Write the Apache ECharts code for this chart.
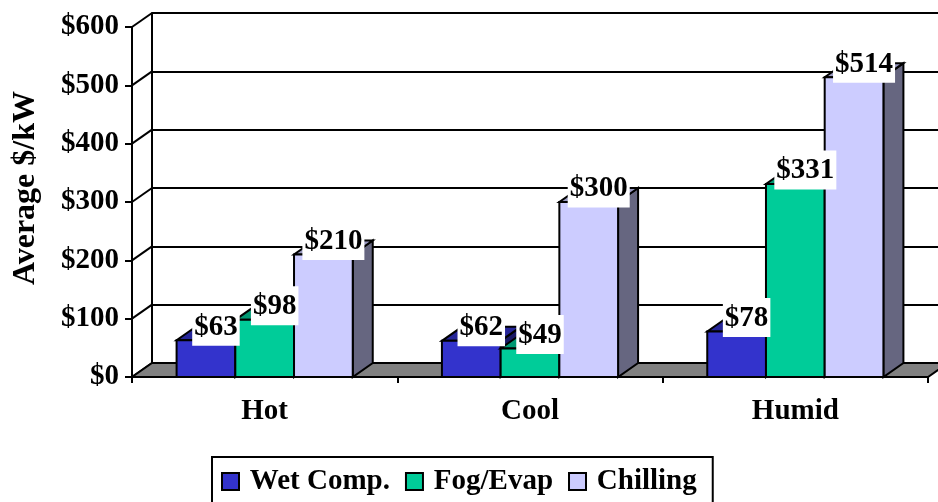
<!DOCTYPE html>
<html>
<head>
<meta charset="utf-8">
<script src="https://cdn.jsdelivr.net/npm/echarts@6/dist/echarts.min.js"></script>
<style>
html, body { margin: 0; padding: 0; background: #fff; }
#chart { width: 938px; height: 502px; }
</style>
</head>
<body>
<div id="chart"></div>
<script>
var categories = ['Hot', 'Cool', 'Humid'];
var seriesNames = ['Wet Comp.', 'Fog/Evap', 'Chilling'];
var wetComp = [63, 62, 78];
var fogEvap = [98, 49, 331];
var chilling = [210, 300, 514];
var yTicks = [0, 100, 200, 300, 400, 500, 600];

var frontColors = ['#3333CC', '#00CC99', '#CCCCFF'];
var topColors = ['#262699', '#009973', '#9999BF'];
var sideColors = ['#1A1A66', '#006650', '#666680'];

// depth of the fake 3d box
var DX = 20, DY = -14;
var BAR = 0.2213; // bar width as part of a category band
var FONT_FAMILY = '"Liberation Serif", "Times New Roman", serif';
var FONT = 'bold 29px ' + FONT_FAMILY;

var allValues = [wetComp, fogEvap, chilling];

function barGeom(api, k) {
	var cat = api.value(0), val = api.value(1);
	var band = api.size([1, 0])[0];
	var w = band * BAR;
	var c = api.coord([cat, val]);
	var b = api.coord([cat, 0]);
	var x0 = c[0] - 1.5 * w + k * w;
	return { x0: x0, x1: x0 + w, yt: c[1], yb: b[1], w: w };
}

function barRenderer(k) {
	return function (params, api) {
		var g = barGeom(api, k);
		var line = { stroke: '#000', lineWidth: 2, lineJoin: 'miter' };
		return {
			type: 'group',
			children: [
				{ type: 'polygon', shape: { points: [[g.x1, g.yt], [g.x1, g.yb], [g.x1 + DX, g.yb + DY], [g.x1 + DX, g.yt + DY]] },
				  style: Object.assign({ fill: sideColors[k] }, line) },
				{ type: 'polygon', shape: { points: [[g.x0, g.yt], [g.x1, g.yt], [g.x1 + DX, g.yt + DY], [g.x0 + DX, g.yt + DY]] },
				  style: Object.assign({ fill: topColors[k] }, line) },
				{ type: 'rect', shape: { x: g.x0, y: g.yt, width: g.w, height: g.yb - g.yt },
				  style: Object.assign({ fill: frontColors[k] }, line) }
			]
		};
	};
}

var barSeries = seriesNames.map(function (name, k) {
	return {
		name: name,
		type: 'custom',
		xAxisIndex: 0,
		yAxisIndex: 0,
		z: 3,
		itemStyle: { color: frontColors[k] },
		renderItem: barRenderer(k),
		encode: { x: 0, y: 1 },
		data: allValues[k].map(function (v, i) { return [i, v]; })
	};
});

var labelData = [];
allValues.forEach(function (arr, k) {
	arr.forEach(function (v, i) { labelData.push([i, v, k]); });
});

var option = {
	animation: false,
	backgroundColor: '#fff',
	grid: [
		{ left: 132, right: 10, top: 27, bottom: 125 },
		{ left: 152, right: -10, top: 13, bottom: 139 }
	],
	xAxis: [
		{
			gridIndex: 0, type: 'category', data: categories,
			axisLine: { show: true, lineStyle: { color: '#000', width: 2 } },
			axisTick: { show: true, interval: 0, length: 6, lineStyle: { color: '#000', width: 2 } },
			axisLabel: { interval: 0, margin: 20, color: '#000', fontWeight: 'bold', fontSize: 29, fontFamily: FONT_FAMILY },
			splitLine: { show: false }
		},
		{ gridIndex: 1, type: 'category', data: categories, show: false }
	],
	yAxis: [
		{
			gridIndex: 0, type: 'value', min: 0, max: 600, interval: 100,
			name: 'Average $/kW', nameLocation: 'middle', nameGap: 90, nameRotate: 90,
			nameTextStyle: { color: '#000', fontWeight: 'bold', fontSize: 32, fontFamily: FONT_FAMILY, padding: [0, 0, 0, 28] },
			axisLine: { show: true, lineStyle: { color: '#000', width: 2 } },
			axisTick: { show: true, length: 7, lineStyle: { color: '#000', width: 2 } },
			axisLabel: { margin: 13, formatter: '${value}', color: '#000', fontWeight: 'bold', fontSize: 29, fontFamily: FONT_FAMILY },
			splitLine: { show: false }
		},
		{
			gridIndex: 1, type: 'value', min: 0, max: 600, interval: 100,
			axisLine: { show: true, lineStyle: { color: '#000', width: 2 } },
			axisTick: { show: false },
			axisLabel: { show: false },
			splitLine: { show: true, lineStyle: { color: '#000', width: 2 } }
		}
	],
	legend: {
		data: seriesNames,
		left: 212, top: 457,
		orient: 'horizontal',
		icon: 'rect',
		itemWidth: 17, itemHeight: 17, itemGap: 15,
		padding: [10, 16, 14, 9],
		backgroundColor: '#fff',
		borderColor: '#000', borderWidth: 2, borderRadius: 0,
		itemStyle: { borderColor: '#000', borderWidth: 2 },
		formatter: function (n) { return '\u2009' + n; },
		textStyle: { color: '#000', fontWeight: 'bold', fontSize: 29, fontFamily: FONT_FAMILY }
	},
	series: [
		{
			// connectors from front axis ticks to back wall
			type: 'custom', xAxisIndex: 0, yAxisIndex: 0, z: 1, silent: true,
			encode: { x: 0, y: 1 },
			data: yTicks.map(function (v) { return [0, v]; }),
			renderItem: function (params, api) {
				var x = params.coordSys.x;
				var y = api.coord([0, api.value(1)])[1];
				return { type: 'line', shape: { x1: x, y1: y, x2: x + DX, y2: y + DY }, style: { stroke: '#000', lineWidth: 2 } };
			}
		},
		{
			// floor
			type: 'custom', xAxisIndex: 0, yAxisIndex: 0, z: 2, silent: true,
			encode: { x: 0, y: 1 },
			data: [[0, 0]],
			renderItem: function (params, api) {
				var cs = params.coordSys;
				var yb = api.coord([0, 0])[1];
				var x0 = cs.x, x1 = cs.x + cs.width;
				return {
					type: 'polygon',
					shape: { points: [[x0, yb], [x1, yb], [x1 + DX, yb + DY], [x0 + DX, yb + DY]] },
					style: { fill: '#808080', stroke: '#000', lineWidth: 2 }
				};
			}
		}
	].concat(barSeries).concat([
		{
			// value labels
			type: 'custom', xAxisIndex: 0, yAxisIndex: 0, z: 10, silent: true,
			encode: { x: 0, y: 1 },
			data: labelData,
			renderItem: function (params, api) {
				var k = api.value(2);
				var g = barGeom(api, k);
				var cx = g.x0 + g.w / 2 + DX / 2;
				var cy = g.yt + DY / 2;
				return {
					type: 'text',
					x: cx, y: cy + 12.5,
					style: {
						text: '$' + api.value(1),
						font: FONT, fill: '#000',
						align: 'center', verticalAlign: 'bottom',
						backgroundColor: '#fff', padding: [6, 2, 4, 2]
					}
				};
			}
		}
	])
};

var chart = echarts.init(document.getElementById('chart'), null, { renderer: 'canvas' });
chart.setOption(option);
</script>
</body>
</html>
